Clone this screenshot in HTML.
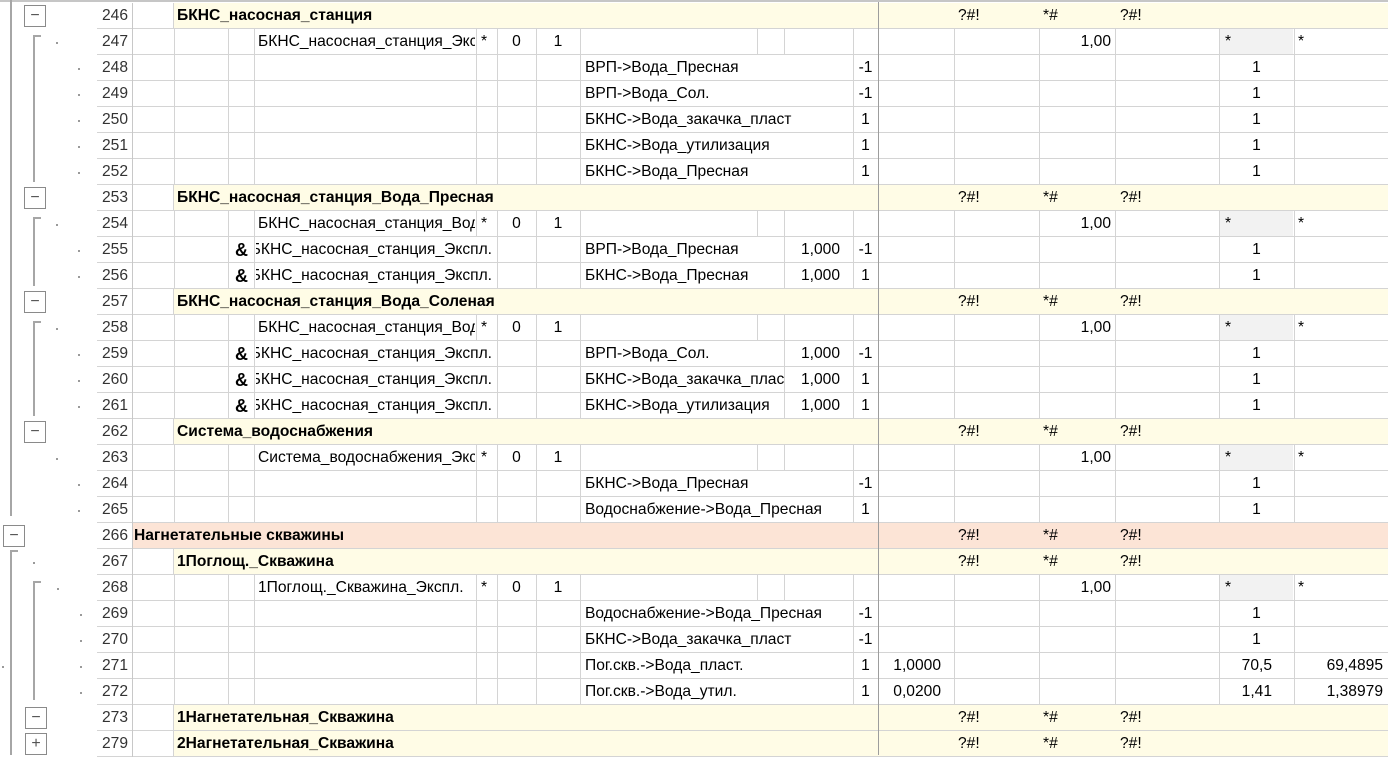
<!DOCTYPE html>
<html><head><meta charset="utf-8">
<style>
html,body{margin:0;padding:0;background:#fff;}
body{width:1388px;height:755px;position:relative;overflow:hidden;font-family:"Liberation Sans","DejaVu Sans",sans-serif;font-size:15.6px;color:#000;}
.a{position:absolute;}
.t{position:absolute;white-space:nowrap;overflow:hidden;line-height:26px;height:26px;}
.b{font-weight:bold;}
.vl{position:absolute;width:1px;background:#d4d4d4;}
.hl{position:absolute;height:1px;background:#d4d4d4;}
.box{position:absolute;width:20px;height:20px;border:1px solid #8a8a8a;background:#fff;color:#555;font-size:16px;line-height:19px;text-align:center;}
.dot{position:absolute;width:2px;height:2px;background:#9a9a9a;}
.ol{position:absolute;background:#a6a6a6;}
</style></head><body>
<div id="root"></div>
<script>
var E=[132,174,228,254,476,497,536,580,757,784,853,878,954,1039,1115,1219,1294,1388];
var R=26,OY=3,h='';
function t(x,y,w,txt,al,cls,extra){h+='<div class="t '+(cls||'')+'" style="left:'+x+'px;top:'+y+'px;width:'+w+'px;text-align:'+(al||'left')+';'+(extra||'')+'">'+txt+'</div>';}
function rect(x,y,w,hh,c){h+='<div class="a" style="left:'+x+'px;top:'+y+'px;width:'+w+'px;height:'+hh+'px;background:'+c+'"></div>';}
var rows=[
['g',246,'БКНС_насосная_станция'],
['e',247,'БКНС_насосная_станция_Эксп.'],
['d',248,'ВРП-&gt;Вода_Пресная','-1'],
['d',249,'ВРП-&gt;Вода_Сол.','-1'],
['d',250,'БКНС-&gt;Вода_закачка_пласт','1'],
['d',251,'БКНС-&gt;Вода_утилизация','1'],
['d',252,'БКНС-&gt;Вода_Пресная','1'],
['g',253,'БКНС_насосная_станция_Вода_Пресная'],
['e',254,'БКНС_насосная_станция_Вода'],
['a',255,'ВРП-&gt;Вода_Пресная','-1'],
['a',256,'БКНС-&gt;Вода_Пресная','1'],
['g',257,'БКНС_насосная_станция_Вода_Соленая'],
['e',258,'БКНС_насосная_станция_Вода'],
['a',259,'ВРП-&gt;Вода_Сол.','-1'],
['a',260,'БКНС-&gt;Вода_закачка_пласт','1'],
['a',261,'БКНС-&gt;Вода_утилизация','1'],
['g',262,'Система_водоснабжения'],
['e',263,'Система_водоснабжения_Эксп.'],
['d',264,'БКНС-&gt;Вода_Пресная','-1'],
['d',265,'Водоснабжение-&gt;Вода_Пресная','1'],
['p',266,'Нагнетательные скважины'],
['g',267,'1Поглощ._Скважина'],
['e',268,'1Поглощ._Скважина_Экспл.'],
['d',269,'Водоснабжение-&gt;Вода_Пресная','-1'],
['d',270,'БКНС-&gt;Вода_закачка_пласт','-1'],
['v',271,'Пог.скв.-&gt;Вода_пласт.','1','1,0000','70,5','69,4895'],
['v',272,'Пог.скв.-&gt;Вода_утил.','1','0,0200','1,41','1,38979'],
['g',273,'1Нагнетательная_Скважина'],
['g',279,'2Нагнетательная_Скважина']
];
rows.forEach(function(r,i){
 var y=OY+i*R,k=r[0];
 t(84,y,44,r[1],'right','','color:#333');
 h+='<div class="hl" style="left:97px;top:'+(y+R-1)+'px;width:1291px"></div>';
 h+='<div class="vl" style="left:132px;top:'+y+'px;height:'+R+'px;background:#c8c8c8"></div>';
 if(k=='g'||k=='p'){
  var x0=k=='g'?174:133;
  h+='<div class="vl" style="left:173px;top:'+y+'px;height:'+R+'px"></div>';
  rect(x0,y,1388-x0,R-1,k=='g'?'#fffce6':'#fce4d6');
  t(x0+(k=='g'?3:1),y,700,r[2],'left','b');
  t(958,y,60,'?#!');t(1043,y,60,'*#');t(1120,y,60,'?#!');
  return;
 }
 var skip={};
 if(k=='d'||k=='v'){skip[8]=1;skip[9]=1;}
 if(k=='a'){skip[4]=1;skip[8]=1;}
 for(var c=1;c<E.length-1;c++){ if(skip[c])continue; h+='<div class="vl" style="left:'+E[c]+'px;top:'+y+'px;height:'+R+'px"></div>';}
 if(k=='e'){
  t(258,y,217,r[2]);
  t(481,y,14,'*');t(497,y,39,'0','center');t(536,y,44,'1','center');
  t(1039,y,72,'1,00','right');
  rect(1220,y,73,R-1,'#f2f2f2');
  t(1225,y,40,'*');t(1298,y,40,'*');
 } else {
  if(k=='a'){
   t(229,y,25,'&amp;','center','b','font-size:18px');
   t(256,y,236,'<span style="position:absolute;right:0;top:0">БКНС_насосная_станция_Экспл.</span>','right');
   t(585,y,199,r[2]);
   t(785,y,55,'1,000','right');
  } else t(585,y,265,r[2]);
  t(853,y,25,r[3],'center');
  if(k=='v'){
   t(878,y,63,r[4],'right');
   t(1219,y,53,r[5],'right');
   t(1294,y,89,r[6],'right');
  } else t(1219,y,75,'1','center');
 }
});
h+='<div class="a" style="left:878px;top:0;width:1px;height:755px;background:#9d9d9d"></div>';
h+='<div class="a" style="left:0;top:0;width:1388px;height:2px;background:#c6c6c6"></div>';
function ol(x,y,w,hh){h+='<div class="ol" style="left:'+x+'px;top:'+y+'px;width:'+w+'px;height:'+hh+'px"></div>';}
ol(10,0,2,516);
ol(10,550,2,205);ol(10,550,8,2);
function br(r0,r1){var y0=OY+r0*R+6,y1=OY+(r1+1)*R-3;ol(33,y0,2,y1-y0);ol(33,y0,8,2);}
br(1,6);br(8,10);br(12,15);
var yy=OY+22*R+6;ol(33,yy,2,700-yy);ol(33,yy,8,2);
function bx(x,ri,s){h+='<div class="box" style="left:'+x+'px;top:'+(OY+ri*R+2)+'px">'+s+'</div>';}
bx(24,0,'−');bx(24,7,'−');bx(24,11,'−');bx(24,16,'−');bx(3,20,'−');bx(25,27,'−');bx(25,28,'+');
function dt(x,ri){h+='<div class="dot" style="left:'+x+'px;top:'+(OY+ri*R+13)+'px"></div>';}
[1,8,12,17].forEach(function(i){dt(56,i);});
[2,3,4,5,6,9,10,13,14,15,18,19].forEach(function(i){dt(78,i);});
dt(33,21);dt(57,22);[23,24,25,26].forEach(function(i){dt(80,i);});
dt(2,25);
document.getElementById('root').innerHTML=h;
</script>
</body></html>
